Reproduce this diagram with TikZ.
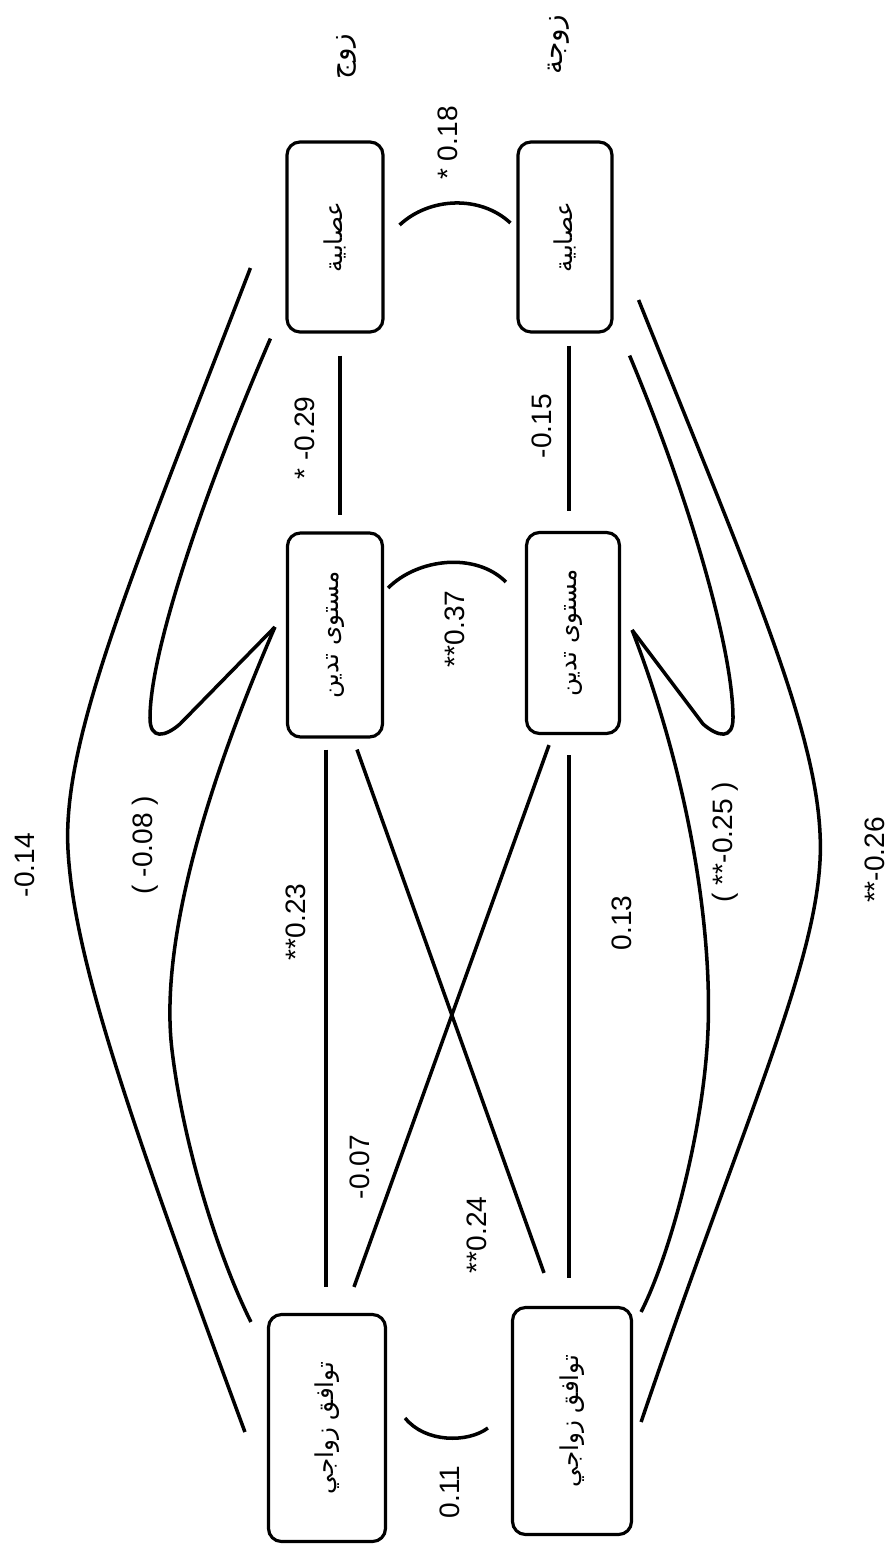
\documentclass[tikz,border=0pt]{standalone}
\usepackage{fontspec}
\setmainfont{Liberation Sans}
\newfontfamily\arabicfont[Script=Arabic]{DejaVu Sans}
\TeXXeTstate=1
\usepackage{graphicx}
\usetikzlibrary{calc}
\newcommand{\arabtxt}[1]{{\arabicfont\beginR #1\endR}}

\begin{document}
\begin{tikzpicture}[x=0.1mm,y=-0.1mm,
box/.style={draw,rounded corners=1.3mm,line width=0.9pt,inner sep=0pt,font=\fontsize{7}{8}\selectfont},
link/.style={line width=1pt},
lbl/.style={rotate=90,inner sep=0pt,font=\fontsize{8}{9}\selectfont},
arab/.style={rotate=90,inner sep=0pt,font=\fontsize{8}{9}\selectfont}]

\useasboundingbox (0,0) rectangle (888,1544);

% boxes
\node[box,minimum width=9.6mm,minimum height=19mm] (hN) at (335,237) {\rotatebox{90}{\arabtxt{عصابية}}};
\node[box,minimum width=9.4mm,minimum height=19mm] (wN) at (565,237) {\rotatebox{90}{\arabtxt{عصابية}}};
\node[box,minimum width=9.5mm,minimum height=20.4mm] (hR) at (335,635) {\rotatebox{90}{\arabtxt{مستوى تدين}}};
\node[box,minimum width=9.3mm,minimum height=20.1mm] (wR) at (573,633) {\rotatebox{90}{\arabtxt{مستوى تدين}}};
\node[box,minimum width=11.7mm,minimum height=22.7mm] (hA) at (327,1428) {\rotatebox{90}{\arabtxt{توافق زواجي}}};
\node[box,minimum width=11.9mm,minimum height=22.7mm] (wA) at (572,1421) {\rotatebox{90}{\arabtxt{توافق زواجي}}};

% column heads
\node[arab] (husband) at (346,57) {\arabtxt{زوج}};
\node[arab] (wife) at (559,45) {\arabtxt{زوجة}};

% straight links
\draw[link] ([shift={(5,22)}]hN.south) -- ([shift={(5,-16)}]hR.north);
\draw[link] ([shift={(4,12)}]wN.south) -- ([shift={(-4,-20)}]wR.north);
\draw[link] ([shift={(-9,11)}]hR.south) -- ([shift={(-1,-26)}]hA.north);
\draw[link] ([shift={(-4,20)}]wR.south) -- ([shift={(-3,-28)}]wA.north);
\draw[link] ([shift={(22,11)}]hR.south) -- ([shift={(-28,-33)}]wA.north);
\draw[link] ([shift={(-24,10)}]wR.south) -- ([shift={(27,-26)}]hA.north);

% arcs between the pairs
\draw[link] ([shift={(15,-12)}]hN.east) .. controls +(30,-28) and +(-30,-28) .. ([shift={(-6,-14)}]wN.west);
\draw[link] ([shift={(4,-47)}]hR.east) .. controls +(30,-30) and +(-30,-30) .. ([shift={(-19,-51)}]wR.west);
\draw[link] ([shift={(18,-10)}]hA.east) .. controls +(20,25) and +(-20,15) .. ([shift={(-23,7)}]wA.west);

% long curves
\draw[link] ([shift={(-35,31)}]hN.west) .. controls (130,580) and (62,740) .. (68,850)
  .. controls (74,960) and (130,1120) .. ([shift={(-22,4)}]hA.west);
\draw[link] ([shift={(25,63)}]wN.east) .. controls (758,598) and (826,750) .. (820,861)
  .. controls (814,972) and (740,1130) .. ([shift={(8,1)}]wA.east);

% loops past the middle boxes
\draw[link] ([shift={(-15,5)}]hN.south west) .. controls (205,490) and (150,650) .. (150,718)
  .. controls (150,740) and (165,737) .. (180,724) -- ([shift={(-11,-8)}]hR.west);
\draw[link] ([shift={(-11,-8)}]hR.west) .. controls (200,800) and (160,950) .. (172,1050)
  .. controls (184,1150) and (220,1260) .. ([shift={(-16,9)}]hA.north west);
\draw[link] ([shift={(16,22)}]wN.south east) .. controls (690,500) and (733,650) .. (733,718)
  .. controls (733,740) and (718,737) .. (703,724) -- ([shift={(11,-3)}]wR.east);
\draw[link] ([shift={(11,-3)}]wR.east) .. controls (690,780) and (712,930) .. (708,1030)
  .. controls (704,1130) and (670,1255) .. ([shift={(8,6)}]wA.north east);

% coefficients
\node[lbl] (l018) at (448,143) {* 0.18};
\node[lbl] (l037) at (455,629) {**0.37};
\node[lbl] (l011) at (450,1492) {0.11};
\node[lbl] (l029) at (305,438) {* -0.29};
\node[lbl] (l015) at (542,426) {-0.15};
\node[lbl] (l023) at (296,922) {**0.23};
\node[lbl] (l013) at (622,923) {0.13};
\node[lbl] (l007) at (360,1167) {-0.07};
\node[lbl] (l024) at (477,1235) {**0.24};
\node[lbl] (l014) at (25,865) {-0.14};
\node[lbl] (l008) at (145,845) {( -0.08 )};
\node[lbl] (l025) at (725,842) {( **-0.25 )};
\node[lbl] (l026) at (875,860) {**-0.26};

\end{tikzpicture}
\end{document}
